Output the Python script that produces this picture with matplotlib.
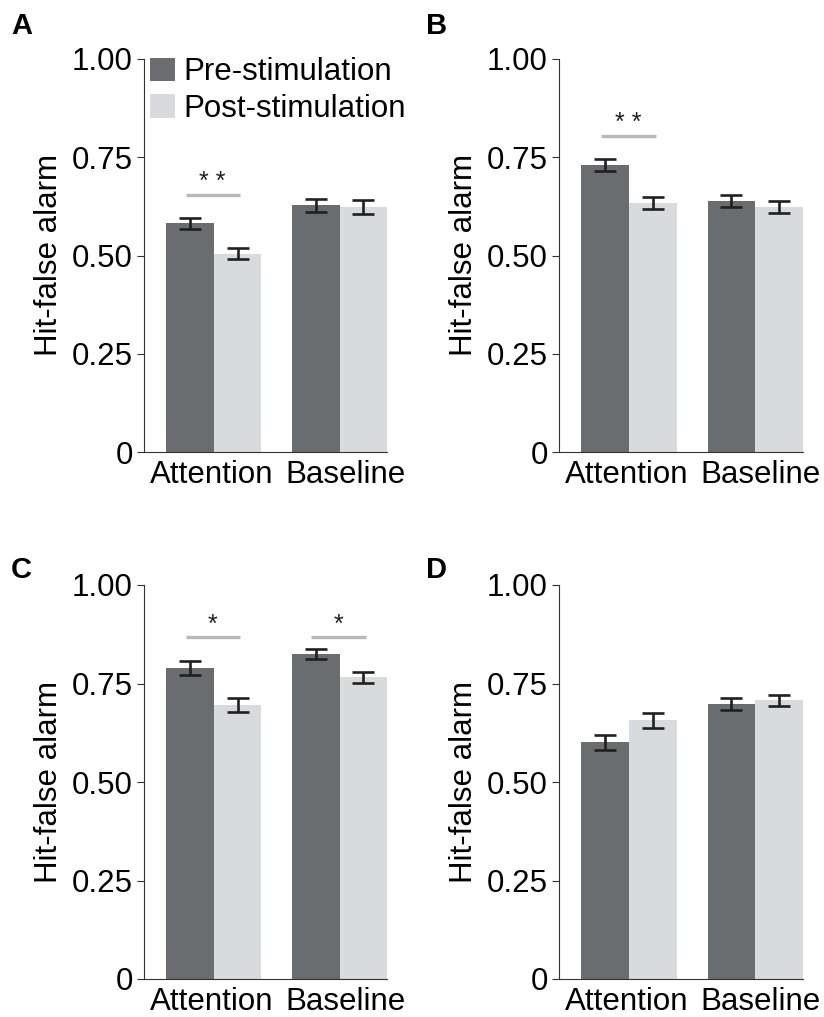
import matplotlib
matplotlib.use('Agg')
import matplotlib.pyplot as plt
import numpy as np

plt.rcParams['font.family'] = ['Liberation Sans', 'DejaVu Sans']

# data
conditions = ['Attention', 'Baseline']
series = ['Pre-stimulation', 'Post-stimulation']
panels = ['A', 'B', 'C', 'D']

pre_means = {'A': [0.582, 0.628], 'B': [0.730, 0.638],
             'C': [0.789, 0.825], 'D': [0.601, 0.698]}
pre_errs = {'A': [0.0145, 0.017], 'B': [0.016, 0.015],
            'C': [0.018, 0.013], 'D': [0.019, 0.016]}
post_means = {'A': [0.504, 0.623], 'B': [0.634, 0.623],
              'C': [0.695, 0.766], 'D': [0.657, 0.707]}
post_errs = {'A': [0.014, 0.017], 'B': [0.016, 0.0145],
             'C': [0.017, 0.014], 'D': [0.0187, 0.015]}

# significance markers: (condition index, bar height, label)
sig_marks = {'A': [(0, 0.655, '* *')], 'B': [(0, 0.805, '* *')],
             'C': [(0, 0.867, '*'), (1, 0.867, '*')], 'D': []}

yticks = [0, 0.25, 0.5, 0.75, 1.0]
yticklabels = ['0', '0.25', '0.50', '0.75', '1.00']

dark = '#6b6c70'
light = '#d9dadc'
ink = '#231f20'
sig_col = '#b8b9bb'

W, H = 824, 1017
fig = plt.figure(figsize=(W / 100, H / 100), dpi=100)

# axes boxes in pixels (left, top, right, bottom)
boxes = {'A': (144, 59, 387, 452), 'B': (559, 59, 803, 452),
         'C': (144, 585, 387, 979), 'D': (559, 585, 803, 979)}
label_pos = {'A': (11, 12), 'B': (426, 12), 'C': (11, 556), 'D': (426, 556)}

bw = 0.378
x = np.arange(len(conditions))
label_x = [-0.02, 1.045]   # category labels sit slightly apart in the original
fs = 22.5

for p in panels:
    l, t, r, b = boxes[p]
    ax = fig.add_axes([l / W, 1 - b / H, (r - l) / W, (b - t) / H])

    ax.bar(x - bw / 2, pre_means[p], bw, color=dark, label=series[0], zorder=1)
    ax.bar(x + bw / 2, post_means[p], bw, color=light, label=series[1], zorder=1)
    ax.errorbar(x - bw / 2, pre_means[p], yerr=pre_errs[p], fmt='none',
                ecolor=ink, elinewidth=1.9, capsize=8, capthick=1.9, zorder=3)
    ax.errorbar(x + bw / 2, post_means[p], yerr=post_errs[p], fmt='none',
                ecolor=ink, elinewidth=1.9, capsize=8, capthick=1.9, zorder=3)

    for ci, h, lab in sig_marks[p]:
        ax.plot([ci - 0.225, ci + 0.21], [h, h], color=sig_col, lw=2.4,
                solid_capstyle='butt', zorder=2)
        ax.text(ci - 0.01, h + 0.002, lab, ha='center', va='bottom',
                fontsize=18, color=ink)

    ax.set_xlim(-0.556, 1 + bw)
    ax.set_ylim(0, 1.0)
    ax.set_yticks(yticks)
    ax.set_yticklabels(yticklabels)
    ax.set_xticks(label_x)
    ax.set_xticklabels(conditions)
    ax.tick_params(axis='y', direction='out', length=5, width=0.8, color='#333333',
                   labelsize=fs, pad=3)
    ax.tick_params(axis='x', length=0, labelsize=fs, pad=6)
    ax.set_ylabel('Hit-false alarm', fontsize=fs, labelpad=6)
    for s in ['top', 'right']:
        ax.spines[s].set_visible(False)
    for s in ['left', 'bottom']:
        ax.spines[s].set_linewidth(0.8)
        ax.spines[s].set_color('#333333')
    ax.spines['left'].set_bounds(0, 1.0)

    if p == 'A':
        ax.legend(loc='upper left', bbox_to_anchor=(0.0, 1.02), frameon=False,
                  fontsize=fs, handlelength=0.8, handleheight=0.8,
                  handletextpad=0.25, labelspacing=0.2, borderaxespad=0,
                  borderpad=0.2)

    lx, ly = label_pos[p]
    fig.text(lx / W, 1 - ly / H, p, fontsize=21, fontweight='bold',
             ha='left', va='top')

fig.savefig('out.png', dpi=100)
